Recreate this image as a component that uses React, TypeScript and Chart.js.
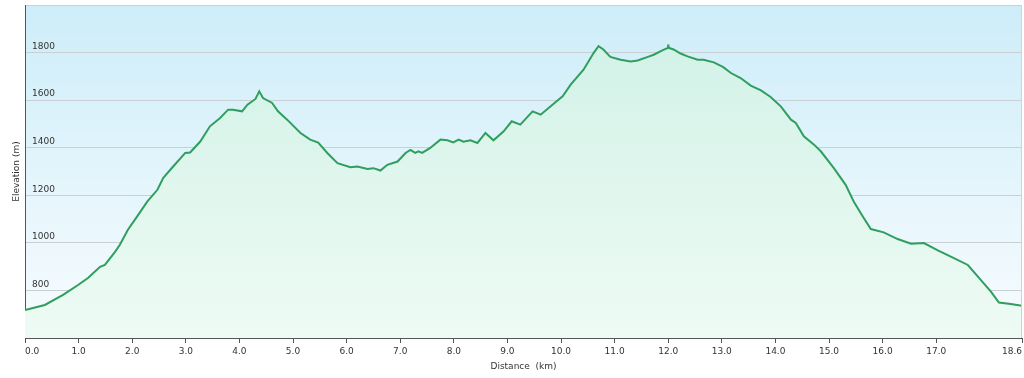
import React, { useEffect, useRef } from 'react';
import { Chart, registerables } from 'chart.js';

Chart.register(...registerables);

const distanceKm = [
  0.0, 0.37, 0.71, 0.99, 1.18, 1.4, 1.49, 1.68, 1.77, 1.92, 2.09, 2.28, 2.47, 2.58, 2.76, 2.99, 3.08, 3.27,
  3.45, 3.64, 3.79, 3.88, 4.05, 4.15, 4.3, 4.37, 4.44, 4.61, 4.72, 4.89, 5.14, 5.32, 5.47, 5.64, 5.83,
  6.07, 6.2, 6.39, 6.5, 6.63, 6.76, 6.95, 7.1, 7.19, 7.28, 7.34, 7.41, 7.56, 7.75, 7.88, 7.99, 8.09, 8.18,
  8.31, 8.44, 8.59, 8.74, 8.93, 9.08, 9.24, 9.47, 9.62, 9.84, 10.03, 10.18, 10.42, 10.61, 10.7, 10.79,
  10.92, 11.11, 11.3, 11.43, 11.62, 11.73, 11.9, 11.995, 12.0, 12.005, 12.1, 12.23, 12.36, 12.55, 12.66,
  12.85, 13.02, 13.17, 13.35, 13.54, 13.73, 13.91, 14.1, 14.29, 14.38, 14.53, 14.72, 14.85, 15.09,
  15.31, 15.46, 15.63, 15.78, 16.02, 16.28, 16.53, 16.77, 17.03, 17.33, 17.59, 17.83, 18.02, 18.17,
  18.39, 18.6,
];

const elevationM = [
  718, 739, 781, 823, 853, 899, 907, 962, 992, 1055, 1110, 1173, 1223, 1273, 1320, 1378, 1380, 1426,
  1490, 1525, 1560, 1560, 1553, 1581, 1605, 1637, 1609, 1588, 1553, 1518, 1462, 1434, 1422, 1378, 1335,
  1318, 1321, 1311, 1314, 1304, 1328, 1342, 1378, 1391, 1378, 1385, 1378, 1399, 1434, 1431, 1422, 1434, 1425,
  1431, 1420, 1462, 1431, 1469, 1511, 1497, 1553, 1539, 1581, 1616, 1665, 1728, 1799, 1827, 1813,
  1782, 1770, 1763, 1767, 1782, 1791, 1810, 1820, 1834, 1820, 1813, 1796, 1784, 1770, 1770,
  1759, 1740, 1714, 1693, 1661, 1641, 1613, 1574, 1518, 1504, 1448, 1413, 1384, 1314,
  1244, 1174, 1111, 1058, 1044, 1016, 996, 999, 968, 936, 907, 844, 795, 749,
  743, 736,
];

const xTickValues = [0, 1, 2, 3, 4, 5, 6, 7, 8, 9, 10, 11, 12, 13, 14, 15, 16, 17, 18.6];
const yTickValues = [600, 800, 1000, 1200, 1400, 1600, 1800, 2000];
const yLabelValues = [800, 1000, 1200, 1400, 1600, 1800];

const FONT = 'DejaVu Sans, Verdana, sans-serif';

export default function App() {
  const ref = useRef<HTMLCanvasElement>(null);

  useEffect(() => {
    document.body.style.margin = '0';
    const canvas = ref.current;
    if (!canvas) return;

    const bgPlugin = {
      id: 'plotBg',
      beforeDraw(chart: any) {
        const { ctx, chartArea: a } = chart;
        if (!a) return;
        const g = ctx.createLinearGradient(0, a.top, 0, a.bottom);
        g.addColorStop(0, '#cdedf9');
        g.addColorStop(1, '#f8fcfe');
        ctx.save();
        ctx.fillStyle = g;
        ctx.fillRect(a.left, a.top, a.right - a.left, a.bottom - a.top);
        ctx.restore();
      },
      afterDraw(chart: any) {
        const { ctx, chartArea: a } = chart;
        ctx.save();
        ctx.strokeStyle = '#cfd3d6';
        ctx.lineWidth = 1;
        ctx.beginPath();
        ctx.moveTo(a.right - 0.5, a.top);
        ctx.lineTo(a.right - 0.5, a.bottom);
        ctx.stroke();
        ctx.restore();
      },
    };

    const chart = new Chart(canvas, {
      type: 'line',
      data: {
        datasets: [
          {
            data: distanceKm.map((d, i) => ({ x: d, y: elevationM[i] })),
            borderColor: '#2f9e5e',
            borderWidth: 2,
            pointRadius: 0,
            tension: 0,
            fill: 'start',
            backgroundColor: (c: any) => {
              const a = c.chart.chartArea;
              if (!a) return 'rgba(210,243,230,1)';
              const g = c.chart.ctx.createLinearGradient(0, a.top, 0, a.bottom);
              g.addColorStop(0, '#cff1e6');
              g.addColorStop(1, '#eefbf4');
              return g;
            },
          },
        ],
      },
      options: {
        responsive: false,
        animation: false,
        layout: { padding: { top: 5, right: 2, left: 0, bottom: 0 } },
        plugins: { legend: { display: false }, tooltip: { enabled: false } },
        scales: {
          x: {
            type: 'linear',
            min: 0,
            max: 18.6,
            afterBuildTicks: (s: any) => {
              s.ticks = xTickValues.map((v) => ({ value: v }));
            },
            afterFit: (s: any) => {
              s.height = 40;
              s.paddingLeft = 0;
              s.paddingRight = 0;
            },
            ticks: {
              align: 'inner',
              autoSkip: false,
              maxRotation: 0,
              padding: 3,
              color: '#333',
              font: { family: FONT, size: 9 },
              callback: (v: any) => Number(v).toFixed(1),
            },
            grid: { drawOnChartArea: false, drawTicks: true, tickLength: 5, color: '#555' },
            border: { color: '#555', width: 1 },
            title: {
              display: true,
              text: 'Distance  (km)',
              color: '#333',
              font: { family: FONT, size: 9 },
              padding: { top: 0, bottom: 5.6 },
            },
          },
          y: {
            min: 600,
            max: 2000,
            afterBuildTicks: (s: any) => {
              s.ticks = yTickValues.map((v) => ({ value: v }));
            },
            afterFit: (s: any) => {
              s.width = 25;
              s.paddingTop = 0;
              s.paddingBottom = 0;
            },
            ticks: {
              mirror: true,
              padding: 7,
              labelOffset: -6,
              color: '#333',
              font: { family: FONT, size: 9 },
              callback: (v: any) => (yLabelValues.includes(Number(v)) ? String(v) : ''),
            },
            grid: { drawTicks: false, color: '#c9cfd2', lineWidth: 1 },
            border: { color: '#555', width: 1 },
            title: {
              display: true,
              text: 'Elevation (m)',
              color: '#333',
              font: { family: FONT, size: 9 },
              padding: { top: 11.6, bottom: 0 },
            },
          },
        },
      },
      plugins: [bgPlugin],
    });

    return () => chart.destroy();
  }, []);

  return (
    <div style={{ width: 1024, height: 378 }}>
      <canvas ref={ref} width={1024} height={378} style={{ display: 'block' }} />
    </div>
  );
}
